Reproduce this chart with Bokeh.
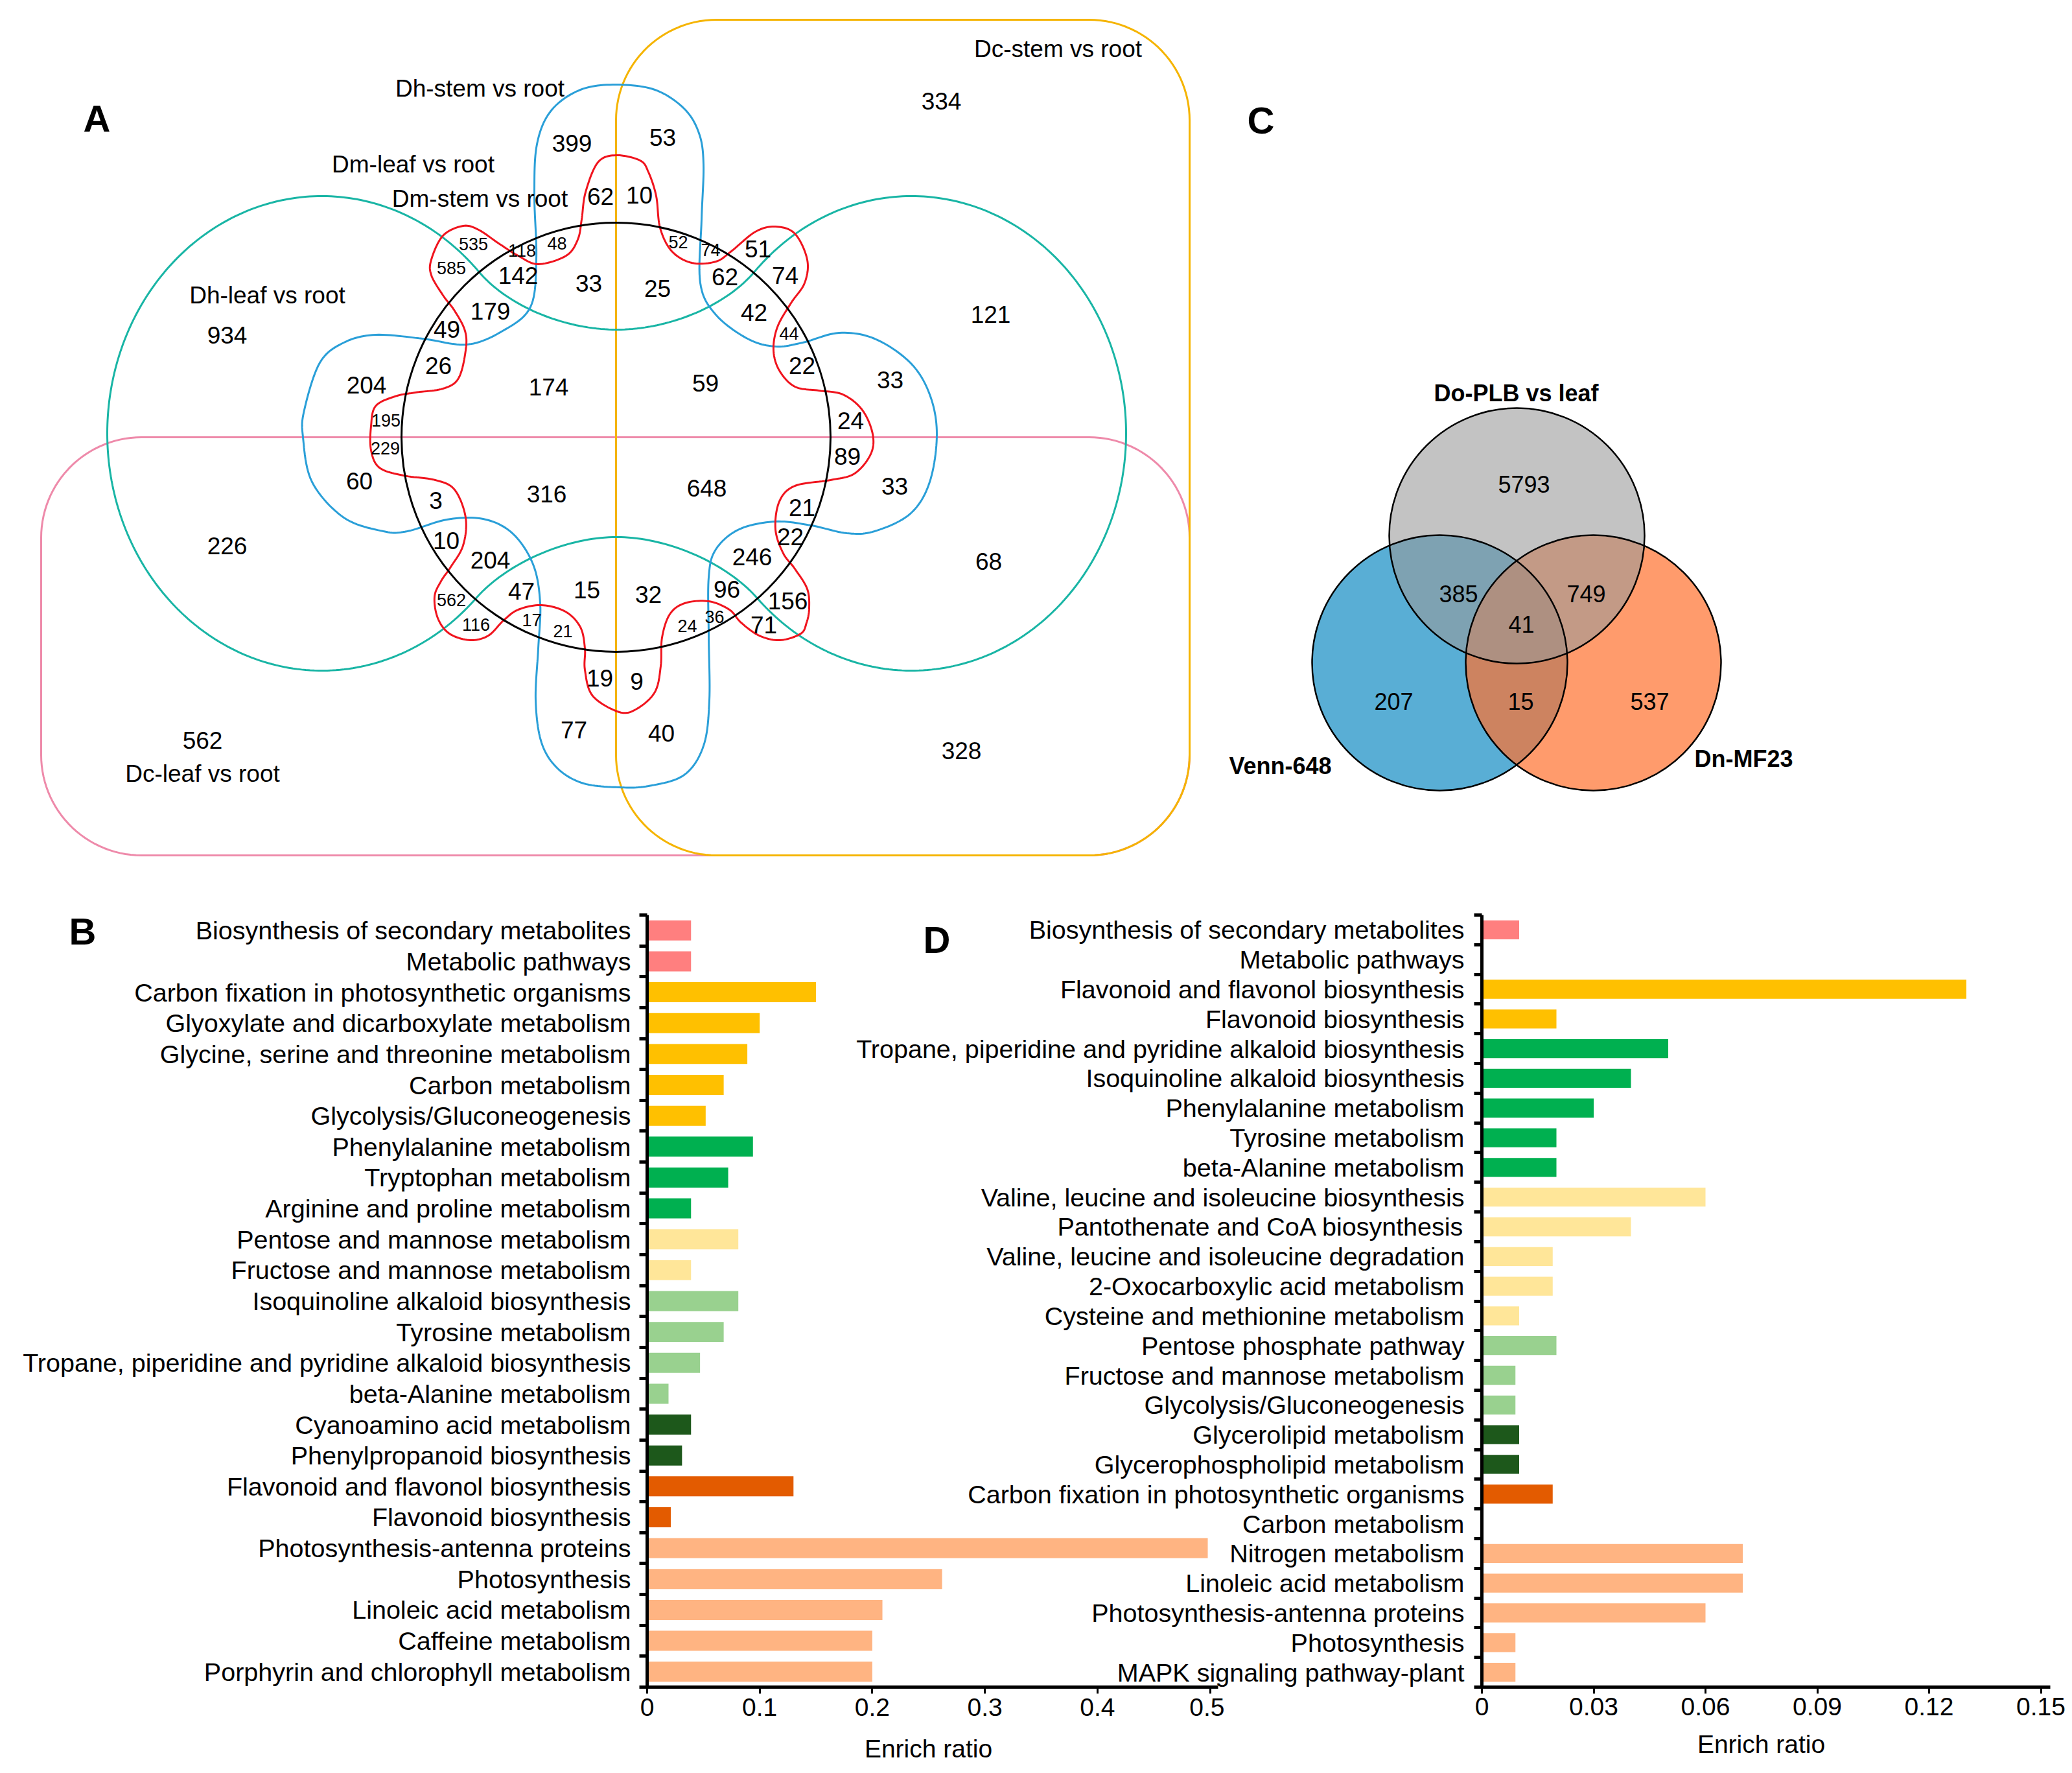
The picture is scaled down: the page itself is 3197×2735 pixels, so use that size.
import numpy as np
from bokeh.plotting import figure
from bokeh.layouts import column, row
from bokeh.models import Range1d, FixedTicker, ColumnDataSource
from bokeh.core.properties import value
from bokeh.embed import file_html
from bokeh.resources import INLINE

# ======================= DATA =======================
# Panel A: six-set Venn
a_set_labels = ["Dh-stem vs root", "Dm-leaf vs root", "Dm-stem vs root",
                "Dh-leaf vs root", "Dc-stem vs root", "Dc-leaf vs root"]
a_counts = [334, 399, 53, 62, 10, 535, 118, 48, 52, 74, 51, 585, 142, 33, 25, 62, 74,
            934, 179, 42, 121, 49, 44, 26, 22, 204, 174, 59, 33, 195, 24, 229, 89,
            60, 3, 316, 648, 21, 33, 10, 226, 22, 204, 246, 68, 47, 15, 32, 96, 562,
            156, 116, 17, 21, 24, 36, 71, 19, 9, 77, 40, 562, 328]

# Panel C: three-set Venn
c_set_labels = ["Do-PLB vs leaf", "Venn-648", "Dn-MF23"]
c_counts = [5793, 385, 749, 41, 207, 15, 537]

# Panel B: KEGG enrichment
b_categories = [
    "Biosynthesis of secondary metabolites", "Metabolic pathways",
    "Carbon fixation in photosynthetic organisms", "Glyoxylate and dicarboxylate metabolism",
    "Glycine, serine and threonine metabolism", "Carbon metabolism",
    "Glycolysis/Gluconeogenesis", "Phenylalanine metabolism", "Tryptophan metabolism",
    "Arginine and proline metabolism", "Pentose and mannose metabolism",
    "Fructose and mannose metabolism", "Isoquinoline alkaloid biosynthesis",
    "Tyrosine metabolism", "Tropane, piperidine and pyridine alkaloid biosynthesis",
    "beta-Alanine metabolism", "Cyanoamino acid metabolism", "Phenylpropanoid biosynthesis",
    "Flavonoid and flavonol biosynthesis", "Flavonoid biosynthesis",
    "Photosynthesis-antenna proteins", "Photosynthesis", "Linoleic acid metabolism",
    "Caffeine metabolism", "Porphyrin and chlorophyll metabolism"]
b_values = [0.039, 0.039, 0.150, 0.100, 0.089, 0.068, 0.052, 0.094, 0.072, 0.039,
            0.081, 0.039, 0.081, 0.068, 0.047, 0.019, 0.039, 0.031, 0.130, 0.021,
            0.498, 0.262, 0.209, 0.200, 0.200]
b_groups = ["g1", "g1", "g2", "g2", "g2", "g2", "g2", "g3", "g3", "g3", "g4", "g4",
            "g5", "g5", "g5", "g5", "g6", "g6", "g7", "g7", "g8", "g8", "g8", "g8", "g8"]
b_ticks = [0, 0.1, 0.2, 0.3, 0.4, 0.5]
b_tick_labels = ["0", "0.1", "0.2", "0.3", "0.4", "0.5"]
b_axis_title = "Enrich ratio"

# Panel D: KEGG enrichment
d_categories = [
    "Biosynthesis of secondary metabolites", "Metabolic pathways",
    "Flavonoid and flavonol biosynthesis", "Flavonoid biosynthesis",
    "Tropane, piperidine and pyridine alkaloid biosynthesis",
    "Isoquinoline alkaloid biosynthesis", "Phenylalanine metabolism", "Tyrosine metabolism",
    "beta-Alanine metabolism", "Valine, leucine and isoleucine biosynthesis",
    "Pantothenate and CoA biosynthesis", "Valine, leucine and isoleucine degradation",
    "2-Oxocarboxylic acid metabolism", "Cysteine and methionine metabolism",
    "Pentose phosphate pathway", "Fructose and mannose metabolism",
    "Glycolysis/Gluconeogenesis", "Glycerolipid metabolism",
    "Glycerophospholipid metabolism", "Carbon fixation in photosynthetic organisms",
    "Carbon metabolism", "Nitrogen metabolism", "Linoleic acid metabolism",
    "Photosynthesis-antenna proteins", "Photosynthesis", "MAPK signaling pathway-plant"]
d_values = [0.010, 0.0, 0.130, 0.020, 0.050, 0.040, 0.030, 0.020, 0.020, 0.060,
            0.040, 0.019, 0.019, 0.010, 0.020, 0.009, 0.009, 0.010, 0.010, 0.019,
            0.0, 0.070, 0.070, 0.060, 0.009, 0.009]
d_groups = ["g1", "g1", "g2", "g2", "g3", "g3", "g3", "g3", "g3", "g4", "g4", "g4",
            "g4", "g4", "g5", "g5", "g5", "g6", "g6", "g7", "g7", "g8", "g8", "g8",
            "g8", "g8"]
d_ticks = [0, 0.03, 0.06, 0.09, 0.12, 0.15]
d_tick_labels = ["0", "0.03", "0.06", "0.09", "0.12", "0.15"]
d_axis_title = "Enrich ratio"

panel_letters = ["A", "B", "C", "D"]

# ======================= STYLE / LAYOUT =======================
FONT = value("Liberation Sans")
FONTNAME = "Liberation Sans"
GROUP_COLORS = {"g1": "#FF7F7F", "g2": "#FFC000", "g3": "#00B050", "g4": "#FFE699",
                "g5": "#99D18F", "g6": "#1D581B", "g7": "#E35B00", "g8": "#FFB482"}
PAGE_W, PAGE_H = 3190, 2730
ROW_TOP = 1370
H_BOT = PAGE_H - ROW_TOP

letter_xy = [(149, 182), (127, 1436), (1945, 185), (1445, 1449)]
axis_title_xy = [(1432, 2697), (2717, 2690)]

a_label_xy = [(740, 136), (637, 253), (740, 306), (412, 455), (1632, 75), (312, 1193)]
a_count_xy = [(1452, 155), (882, 220), (1022, 211), (926, 302), (986, 300), (730, 376),
              (805, 386), (859, 375), (1046, 373), (1096, 385), (1169, 383), (696, 413),
              (799, 424), (908, 436), (1014, 444), (1118, 426), (1211, 424), (350, 516),
              (756, 479), (1163, 481), (1528, 484), (689, 507), (1217, 514), (676, 563),
              (1237, 563), (565, 593), (846, 596), (1088, 590), (1373, 585), (595, 648),
              (1312, 648), (594, 691), (1307, 703), (554, 741), (672, 771), (843, 761),
              (1090, 752), (1237, 782), (1380, 749), (688, 833), (350, 841), (1219, 827),
              (756, 863), (1160, 858), (1525, 865), (804, 911), (905, 909), (1000, 916),
              (1121, 908), (696, 925), (1215, 926), (734, 963), (820, 956), (868, 973),
              (1060, 965), (1102, 951), (1178, 963), (925, 1045), (982, 1050), (885, 1125),
              (1020, 1130), (312, 1141), (1483, 1157)]
a_count_small = [0, 0, 0, 0, 0, 1, 1, 1, 1, 1, 0, 1, 0, 0, 0, 0, 0, 0, 0, 0, 0, 0, 1, 0,
                 0, 0, 0, 0, 0, 1, 0, 1, 0, 0, 0, 0, 0, 0, 0, 0, 0, 0, 0, 0, 0, 0, 0, 0,
                 0, 1, 0, 1, 1, 1, 1, 1, 0, 0, 0, 0, 0, 0, 0]

# outline geometry of panel A shapes (traced)
BLUE_PTS = [(950, 130), (1010, 138), (1055, 167), (1078, 205), (1085, 253), (1082, 338),
            (1080, 436), (1104, 485), (1153, 522), (1196, 534), (1238, 528), (1294, 513),
            (1349, 522), (1404, 559), (1434, 608), (1445, 669), (1434, 743), (1404, 792),
            (1349, 819), (1306, 822), (1251, 810), (1196, 804), (1140, 816), (1104, 847),
            (1093, 890), (1093, 980), (1094, 1080), (1085, 1150), (1055, 1195),
            (1000, 1212), (955, 1214), (900, 1208), (860, 1185), (835, 1145), (826, 1080),
            (830, 1000), (833, 930), (822, 870), (790, 822), (745, 800), (689, 801),
            (628, 819), (591, 819), (530, 798), (481, 743), (467, 674), (469, 632),
            (493, 559), (530, 528), (579, 516), (652, 522), (720, 531), (775, 510),
            (818, 473), (827, 400), (824, 300), (828, 222), (850, 170), (895, 138)]
RED_PTS = [(950, 239), (987, 247), (1000, 265), (1012, 302), (1018, 351), (1036, 387),
           (1067, 405), (1104, 403), (1128, 387), (1165, 357), (1196, 349), (1226, 360),
           (1245, 400), (1241, 436), (1220, 467), (1199, 504), (1193, 540), (1202, 571),
           (1226, 596), (1263, 602), (1300, 608), (1330, 632), (1346, 669), (1343, 700),
           (1318, 730), (1281, 740), (1226, 749), (1202, 773), (1196, 816), (1208, 853),
           (1226, 877), (1245, 908), (1248, 938), (1244, 960), (1235, 977), (1203, 987),
           (1171, 980), (1143, 960), (1125, 940), (1093, 927), (1056, 930), (1033, 947),
           (1021, 983), (1019, 1027), (1010, 1067), (982, 1093), (955, 1098), (914, 1073),
           (902, 1033), (902, 1000), (895, 967), (872, 943), (835, 933), (799, 940),
           (776, 957), (753, 980), (725, 987), (693, 977), (675, 953), (670, 920),
           (680, 896), (695, 874), (714, 841), (718, 798), (701, 755), (671, 740),
           (622, 733), (585, 721), (572, 694), (572, 657), (579, 626), (609, 611),
           (640, 605), (683, 599), (707, 583), (718, 540), (717, 510), (701, 479),
           (683, 455), (665, 424), (665, 400), (683, 363), (714, 348), (738, 354),
           (769, 375), (799, 394), (830, 407), (873, 394), (891, 369), (897, 338),
           (903, 296), (922, 250)]

c_circle_xy = [(2221, 1022), (2458, 1022), (2340, 826)]   # Venn-648, Dn-MF23, Do-PLB
c_radius = 197
c_label_xy = [(2339, 606), (1975, 1181), (2690, 1170)]
c_count_xy = [(2351, 746), (2250, 915), (2447, 915), (2347, 962), (2150, 1081),
              (2346, 1081), (2545, 1081)]


def catmull(pts, n=12):
    P = np.array(pts, float)
    N = len(P)
    out = []
    for i in range(N):
        p0, p1, p2, p3 = P[(i - 1) % N], P[i], P[(i + 1) % N], P[(i + 2) % N]
        for s in np.linspace(0, 1, n, endpoint=False):
            out.append(0.5 * (2 * p1 + (-p0 + p2) * s + (2 * p0 - 5 * p1 + 4 * p2 - p3) * s * s
                              + (-p0 + 3 * p1 - 3 * p2 + p3) * s ** 3))
    out.append(out[0])
    return np.array(out)


def rrect(x0, y0, x1, y1, r, n=30):
    pts = []
    for cx, cy, a0 in [(x1 - r, y0 + r, -90), (x1 - r, y1 - r, 0), (x0 + r, y1 - r, 90),
                       (x0 + r, y0 + r, 180)]:
        t = np.radians(np.linspace(a0, a0 + 90, n))
        pts.append(np.c_[cx + r * np.cos(t), cy + r * np.sin(t)])
    arr = np.vstack(pts)
    return np.vstack([arr, arr[:1]])


def bezier(P0, P1, P2, P3, n=40):
    s = np.linspace(0, 1, n)[:, None]
    return (1 - s) ** 3 * P0 + 3 * (1 - s) ** 2 * s * P1 + 3 * (1 - s) * s ** 2 * P2 + s ** 3 * P3


def teal_outline():
    cx, cy, a, b, mid = 496.0, 668.0, 331.0, 366.0, 951.0
    t0, t1 = np.radians(44), np.radians(317)
    t = np.linspace(t0, t1, 240)
    arc = np.c_[cx + a * np.cos(t), cy + b * np.sin(t)]
    ps = arc[0]
    d = np.array([a * np.sin(t0), -b * np.cos(t0)]); d /= np.hypot(*d)
    bot = bezier(np.array([mid, 828.0]), np.array([mid - 80, 828.0]), ps + 70 * d, ps)
    pe = arc[-1]
    d2 = np.array([-a * np.sin(t1), b * np.cos(t1)]); d2 /= np.hypot(*d2)
    topw = bezier(pe, pe + 70 * d2, np.array([mid - 80, 508.0]), np.array([mid, 508.0]))
    left = np.vstack([bot, arc, topw])
    right = left[::-1].copy()
    right[:, 0] = 2 * mid - right[:, 0]
    return np.vstack([left, right])


# ======================= BACKGROUND FIGURE (A + C + panel texts) =======================
top = figure(width=PAGE_W, height=PAGE_H, x_range=Range1d(0, PAGE_W),
             y_range=Range1d(PAGE_H, 0), output_backend="svg", toolbar_location=None,
             min_border=0, x_axis_location=None, y_axis_location=None,
             outline_line_color=None)
top.grid.visible = False

LW = 3
pink = rrect(63, 674, 1835, 1319, 155)
top.line(pink[:, 0], pink[:, 1], line_color="#EE8AAA", line_width=LW)
yel = rrect(950, 30, 1835, 1319, 155)
top.line(yel[:, 0], yel[:, 1], line_color="#F5B400", line_width=LW)
teal = teal_outline()
top.line(np.r_[teal[:, 0], teal[:1, 0]], np.r_[teal[:, 1], teal[:1, 1]],
         line_color="#19B5A5", line_width=LW)
blue = catmull(BLUE_PTS)
top.line(blue[:, 0], blue[:, 1], line_color="#2A9FD8", line_width=LW)
red = catmull(RED_PTS)
top.line(red[:, 0], red[:, 1], line_color="#F0141E", line_width=LW)
top.circle(x=[950], y=[674], radius=331, fill_color=None, line_color="black", line_width=LW)

top.text(x=[p[0] for p in a_label_xy], y=[p[1] for p in a_label_xy], text=a_set_labels,
         text_font=FONT, text_font_size="37px", text_align="center",
         text_baseline="middle", text_color="black")
for small, size in [(0, "37px"), (1, "27px")]:
    idx = [i for i, s in enumerate(a_count_small) if s == small]
    top.text(x=[a_count_xy[i][0] for i in idx], y=[a_count_xy[i][1] for i in idx],
             text=[str(a_counts[i]) for i in idx], text_font=FONT, text_font_size=size,
             text_align="center", text_baseline="middle", text_color="black")

# Panel C circles (blue, orange, then grey over them)
c_fill = [("#138BC3", 0.70), ("#FF702E", 0.70), ("#999999", 0.59)]
for (cx, cy), (col, al) in zip(c_circle_xy, c_fill):
    top.circle(x=[cx], y=[cy], radius=c_radius, fill_color=col, fill_alpha=al, line_color=None)
for cx, cy in c_circle_xy:
    top.circle(x=[cx], y=[cy], radius=c_radius, fill_color=None, line_color="black",
               line_width=2.5)
top.text(x=[p[0] for p in c_label_xy], y=[p[1] for p in c_label_xy], text=c_set_labels,
         text_font=FONT, text_font_size="36px", text_font_style="bold", text_align="center",
         text_baseline="middle", text_color="black")
top.text(x=[p[0] for p in c_count_xy], y=[p[1] for p in c_count_xy],
         text=[str(v) for v in c_counts], text_font=FONT, text_font_size="36px",
         text_align="center", text_baseline="middle", text_color="black")
top.text(x=[p[0] for p in letter_xy], y=[p[1] for p in letter_xy], text=panel_letters,
         text_font=FONT, text_font_size="58px", text_font_style="bold", text_align="center",
         text_baseline="middle", text_color="black")
top.text(x=[p[0] for p in axis_title_xy], y=[p[1] for p in axis_title_xy],
         text=[b_axis_title, d_axis_title], text_font=FONT, text_font_size="39px",
         text_align="center", text_baseline="middle", text_color="black")


# ======================= BAR CHARTS =======================
def bar_chart(cats, vals, groups, ticks, tick_labels, *, width, frame_left, frame_right,
              frame_top, frame_bottom, fig_left, xmax, bar_h, ystand, xstand, margin=None):
    n = len(cats)
    kw = {}
    if margin is not None:
        kw["margin"] = margin
    p = figure(width=width, height=H_BOT, x_range=Range1d(0, xmax),
               y_range=Range1d(n - 0.5, -0.5), output_backend="svg", toolbar_location=None,
               min_border_left=frame_left - fig_left,
               min_border_right=fig_left + width - frame_right,
               min_border_top=frame_top - ROW_TOP,
               min_border_bottom=ROW_TOP + H_BOT - frame_bottom,
               outline_line_color=None, background_fill_color=None, border_fill_color=None,
               **kw)
    p.grid.visible = False
    src = ColumnDataSource(dict(y=list(range(n)), v=vals,
                                color=[GROUP_COLORS[g] for g in groups]))
    p.hbar(y="y", left=0, right="v", height=bar_h, fill_color="color", line_color=None,
           source=src)
    yax = p.yaxis[0]
    yax.ticker = FixedTicker(ticks=list(range(n)), minor_ticks=[i - 0.5 for i in range(n + 1)])
    yax.major_label_overrides = {i: c for i, c in enumerate(cats)}
    yax.major_tick_out = 12
    yax.major_tick_in = 0
    yax.major_tick_line_color = None
    yax.minor_tick_out = 12
    yax.minor_tick_in = 0
    yax.minor_tick_line_width = 5
    yax.minor_tick_line_color = "black"
    yax.axis_line_width = 5
    yax.major_label_standoff = ystand
    yax.major_label_text_font = FONTNAME
    yax.major_label_text_font_size = "39.5px"
    yax.major_label_text_color = "black"
    xax = p.xaxis[0]
    xax.ticker = FixedTicker(ticks=ticks, minor_ticks=[])
    xax.major_label_overrides = {t: l for t, l in zip(ticks, tick_labels)}
    xax.axis_line_width = 5
    xax.major_tick_out = 10
    xax.major_tick_in = 0
    xax.major_tick_line_width = 3
    xax.minor_tick_line_color = None
    xax.major_label_standoff = xstand
    xax.major_label_text_font = FONTNAME
    xax.major_label_text_font_size = "39px"
    xax.major_label_text_color = "black"
    return p


B_W = 1889
pB = bar_chart(b_categories, b_values, b_groups, b_ticks, b_tick_labels, width=B_W,
               frame_left=998, frame_right=1879, frame_top=1411, frame_bottom=2610,
               fig_left=0, xmax=(1879 - 998) / 1737.0, bar_h=0.65, ystand=13, xstand=7)
D_LEFT = 1290
D_W = PAGE_W - D_LEFT
pD = bar_chart(d_categories, d_values, d_groups, d_ticks, d_tick_labels, width=D_W,
               frame_left=2286, frame_right=3163, frame_top=1404, frame_bottom=2602,
               fig_left=D_LEFT, xmax=(3163 - 2286) / 5750.0, bar_h=0.64, ystand=15, xstand=6,
               margin=(0, 0, 0, D_LEFT - B_W))

bars = row(pB, pD, margin=(ROW_TOP - PAGE_H, 0, 0, 0))
layout = column(top, bars)
open("out.html", "w").write(file_html(layout, INLINE))
